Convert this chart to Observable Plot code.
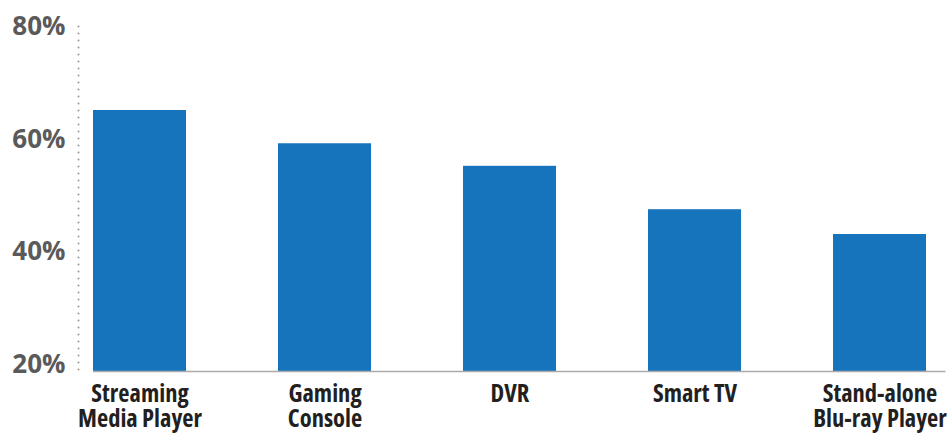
<!DOCTYPE html>
<html>
<head>
<meta charset="utf-8">
<script src="https://cdn.jsdelivr.net/npm/d3@7"></script>
<script src="https://cdn.jsdelivr.net/npm/@observablehq/plot@0.6"></script>
<style>
  html, body { margin: 0; padding: 0; background: #fff; }
  #chart svg { display: block; overflow: visible; }
  #chart g[aria-label="x-axis tick label"] text {
    font-family: 'Open Sans', sans-serif;
    font-stretch: 75%;
  }
</style>
</head>
<body>
<div id="chart"></div>
<script>
const categories = ["Streaming Media Player", "Gaming Console", "DVR", "Smart TV", "Stand-alone Blu-ray Player"];
const labels = ["Streaming\nMedia Player", "Gaming\nConsole", "DVR", "Smart TV", "Stand-alone\nBlu-ray Player"];
const values = [65.1, 59.2, 55.2, 47.5, 43.1];
const yTicks = [20, 40, 60, 80];

const data = categories.map((c, i) => ({category: c, value: values[i]}));
const labelOf = new Map(categories.map((c, i) => [c, labels[i]]));
const yMin = 18.8, yMax = 80;

const chart = Plot.plot({
  width: 950,
  height: 434,
  marginTop: 26,
  marginBottom: 63,
  marginLeft: 78,
  marginRight: 9.5,
  x: {domain: categories, paddingInner: 0.5, paddingOuter: 0.081, axis: null, label: null},
  y: {domain: [yMin, yMax], axis: null, label: null},
  marks: [
    Plot.frame({anchor: "left", stroke: "#999999", strokeWidth: 2, strokeDasharray: "0,7", strokeLinecap: "round"}),
    Plot.barY(data, {x: "category", y1: yMin, y2: "value", fill: "#1574bb"}),
    Plot.ruleY([yMin], {stroke: "#aaaaaa", strokeWidth: 1.5, insetLeft: 15, insetRight: -5}),
    Plot.axisY({
      ticks: yTicks, tickSize: 0, tickPadding: 13, label: null,
      tickFormat: d => d + "%",
      fontSize: 26, fontWeight: "bold", fill: "#5a5a5a",
      fontFamily: "'Open Sans', sans-serif"
    }),
    Plot.axisX({
      tickSize: 0, tickPadding: 13, label: null,
      tickFormat: d => labelOf.get(d),
      fontSize: 24.5, fontWeight: "bold", fill: "#231f20", lineHeight: 1.02,
      fontFamily: "'Open Sans', sans-serif"
    })
  ]
});
document.getElementById("chart").appendChild(chart);
</script>
</body>
</html>
